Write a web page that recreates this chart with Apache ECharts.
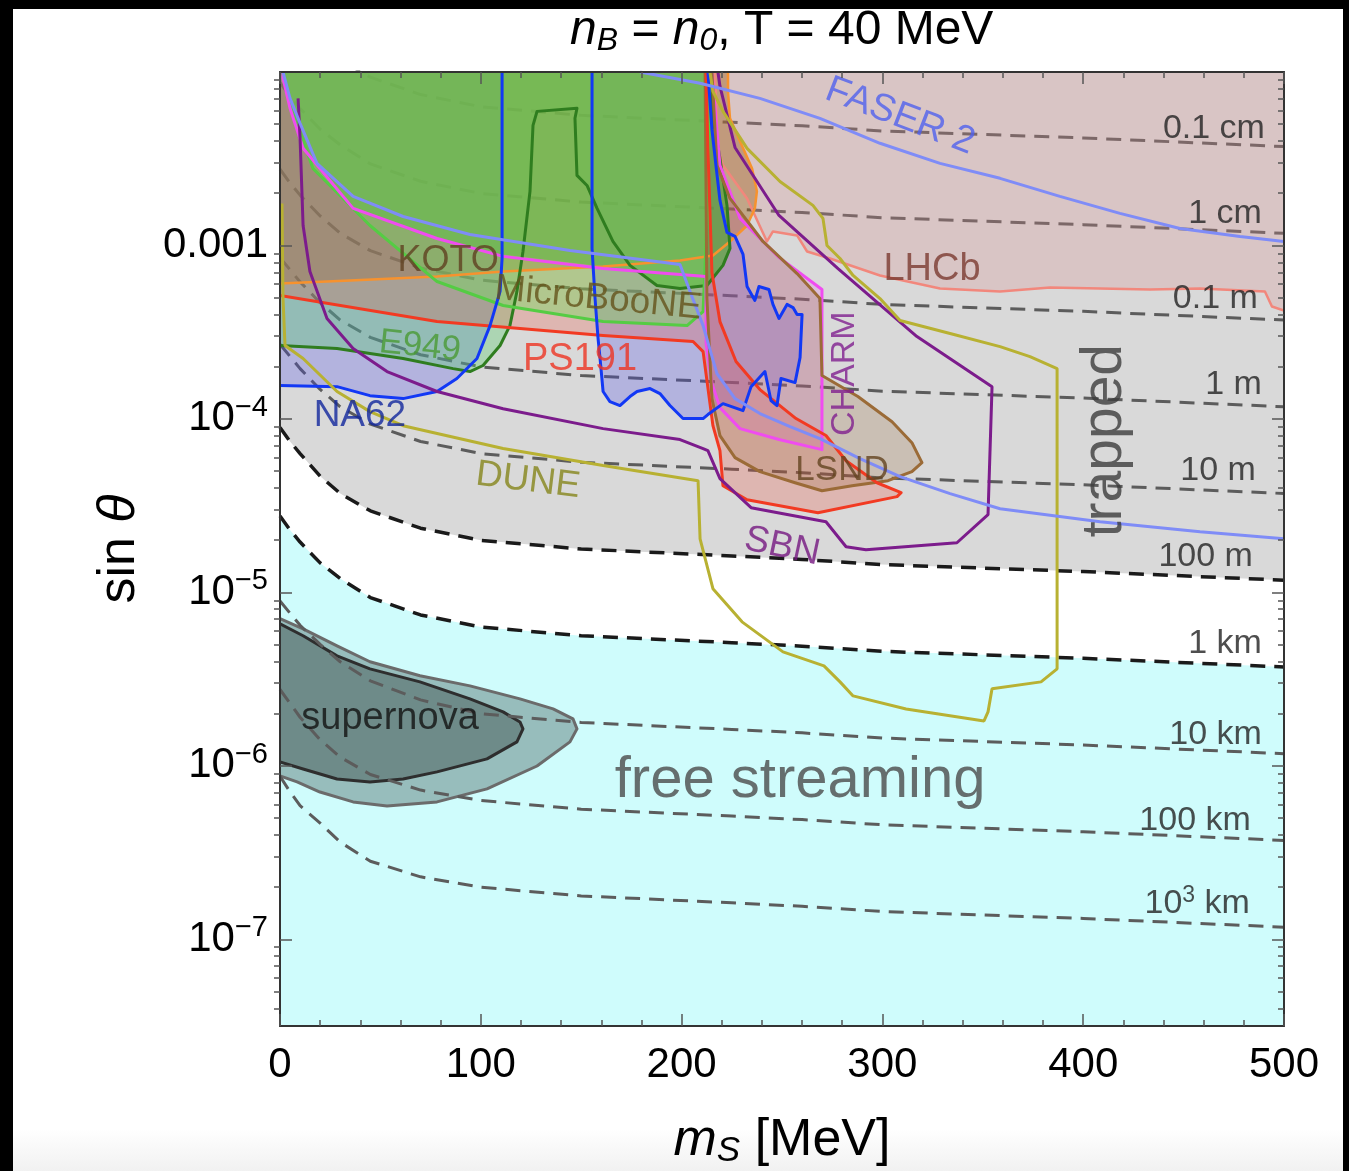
<!DOCTYPE html>
<html>
<head>
<meta charset="utf-8">
<script src="https://cdn.jsdelivr.net/npm/echarts@6/dist/echarts.min.js"></script>
<style>
  html, body { margin: 0; padding: 0; background: #000; }
  #chart {
    position: absolute; left: 13px; top: 9px; width: 1330px; height: 1162px;
    background: linear-gradient(#fff 0, #fff 1120px, #f1f1f1 1162px);
  }
</style>
</head>
<body>
<div id="chart"></div>
<script>
// x = m_S [MeV], y = log10(sin theta)

// decay length contours, sampled at these masses
const contourMass = [0, 5, 10, 20, 30, 45, 70, 100, 150, 225, 260, 300, 400, 500];
const len01cm  = [-1.56, -1.64, -1.71, -1.83, -1.93, -2.03, -2.13, -2.20, -2.25, -2.29, -2.31, -2.34, -2.38, -2.43];
const len1cm   = [-2.06, -2.14, -2.21, -2.33, -2.42, -2.53, -2.63, -2.70, -2.75, -2.79, -2.81, -2.84, -2.88, -2.93];
const len01m   = [-2.56, -2.64, -2.71, -2.83, -2.93, -3.03, -3.13, -3.20, -3.25, -3.29, -3.31, -3.34, -3.38, -3.43];
const len1m    = [-3.07, -3.14, -3.21, -3.33, -3.43, -3.53, -3.63, -3.70, -3.75, -3.79, -3.81, -3.84, -3.88, -3.93];
const len10m   = [-3.57, -3.64, -3.71, -3.83, -3.93, -4.03, -4.13, -4.20, -4.25, -4.29, -4.31, -4.34, -4.38, -4.43];
const len100m  = [-4.05, -4.13, -4.20, -4.33, -4.43, -4.53, -4.63, -4.70, -4.75, -4.79, -4.81, -4.84, -4.88, -4.93];
const len1km   = [-4.56, -4.64, -4.71, -4.83, -4.92, -5.03, -5.13, -5.20, -5.25, -5.29, -5.31, -5.34, -5.38, -5.43];
const len10km  = [-5.05, -5.12, -5.19, -5.30, -5.40, -5.51, -5.62, -5.70, -5.75, -5.79, -5.81, -5.84, -5.88, -5.93];
const len100km = [-5.56, -5.64, -5.72, -5.85, -5.95, -6.05, -6.14, -6.20, -6.25, -6.29, -6.31, -6.34, -6.38, -6.43];
const len1000km= [-6.06, -6.15, -6.23, -6.33, -6.44, -6.55, -6.64, -6.70, -6.75, -6.79, -6.81, -6.84, -6.88, -6.93];

// experimental regions, [m, log10 sin] outlines
const lhcb = [[216.6,-2],[218.1,-2.44],[220.6,-2.538],[232.6,-2.729],[242.5,-2.977],[245.5,-2.919],[257.5,-2.942],[262.5,-3.035],[273.9,-3.075],[298.8,-3.173],[328.7,-3.248],[358.6,-3.265],[383.5,-3.242],[408.4,-3.248],[433.3,-3.254],[458.2,-3.248],[490.5,-3.265],[494,-3.352],[500,-3.375],[500,-2]];
const koto = [[0,-2],[0,-3.219],[34.9,-3.202],[78.2,-3.179],[111.1,-3.15],[160.9,-3.121],[199.2,-3.087],[215.6,-3.058],[224.1,-2.977],[232.6,-2.885],[236.5,-2.786],[237.5,-2.688],[235.1,-2.556],[229.1,-2.4],[224.1,-2.267],[223.1,-2.111],[223.1,-2]];
const na62Low = [[0,-2],[0,-3.808],[28.4,-3.814],[44.8,-3.866],[61.3,-3.883],[78.2,-3.842],[88.1,-3.767],[98.1,-3.652],[104.6,-3.462],[109.6,-3.265],[110.6,-3.075],[110.6,-2]];
const na62High = [[155.4,-2],[155.4,-3.017],[156.9,-3.306],[158.4,-3.537],[159.4,-3.652],[160.9,-3.842],[164.3,-3.9],[169.3,-3.923],[174.3,-3.871],[177.8,-3.842],[184.3,-3.825],[189.2,-3.854],[194.2,-3.923],[200.7,-3.998],[210.7,-3.998],[213.1,-3.975],[220.6,-3.912],[230.6,-3.952],[234.6,-3.814],[241.5,-3.727],[244.5,-3.894],[247.5,-3.923],[249.5,-3.767],[256.5,-3.791],[259,-3.646],[260,-3.398],[257.5,-3.398],[255.5,-3.358],[252.5,-3.34],[248.5,-3.421],[245.5,-3.34],[243.5,-3.254],[238.5,-3.237],[236.5,-3.317],[232.6,-3.237],[230.6,-3.052],[226.6,-2.948],[222.6,-2.925],[219.1,-2.74],[217.1,-2.538],[215.1,-2.331],[213.1,-2]];
const e949 = [[0,-2],[0,-3.577],[28.4,-3.594],[61.3,-3.652],[86.2,-3.71],[94.6,-3.727],[101.1,-3.692],[109.6,-3.577],[114.5,-3.462],[118,-3.265],[121,-3.035],[124.5,-2.688],[126,-2.308],[128,-2.227],[147.9,-2.209],[146.9,-2.267],[147.9,-2.596],[152.9,-2.654],[157.9,-2.786],[165.8,-2.977],[174.3,-3.115],[187.7,-3.231],[199.2,-3.248],[212.6,-3.231],[220.6,-3.115],[224.1,-3.017],[222.6,-2.769],[219.1,-2.498],[215.6,-2.267],[214.1,-2]];
const ps191 = [[0,-2],[0,-3.289],[78.2,-3.439],[160.9,-3.519],[205.7,-3.554],[210.7,-3.612],[215.6,-4.039],[219.1,-4.183],[220.6,-4.385],[232.6,-4.466],[267.9,-4.541],[307.3,-4.448],[309.3,-4.425],[297.3,-4.368],[281.9,-4.241],[271.9,-4.096],[257,-3.998],[239,-3.831],[227.1,-3.669],[219.1,-3.439],[215.1,-3.156],[213.1,-2.44],[212.2,-2]];
const charm = [[1.5,-2],[1.5,-2.036],[5,-2.209],[11.5,-2.44],[36.4,-2.786],[78.2,-2.96],[111.1,-3.063],[160.9,-3.133],[212.2,-3.179],[212.2,-3.565],[215.1,-3.796],[219.1,-3.935],[229.1,-4.056],[248.5,-4.119],[269.9,-4.177],[269.9,-3.254],[248.5,-3.069],[229.1,-2.844],[219.1,-2.538],[215.1,-2]];
const lsnd = [[211.7,-2],[215.1,-2],[217.6,-2.538],[224.1,-2.729],[240.5,-2.977],[257.5,-3.162],[268.9,-3.306],[269.9,-3.75],[287.8,-3.871],[304.8,-4.016],[314.7,-4.137],[319.7,-4.252],[314.7,-4.304],[302.8,-4.356],[284.9,-4.385],[269.9,-4.414],[256.5,-4.368],[239,-4.304],[226.6,-4.223],[219.1,-4.096],[215.1,-3.883],[212.6,-3.306]];
const greenTop = [[0,-2],[1.5,-2.036],[5,-2.209],[11.5,-2.44],[36.4,-2.775],[78.2,-2.96],[111.1,-3.052],[160.9,-3.121],[179.3,-3.162],[187.7,-3.231],[199.2,-3.248],[212.6,-3.231],[220.6,-3.115],[224.1,-3.017],[222.6,-2.769],[219.1,-2.498],[215.6,-2.267],[214.1,-2]];
const microboone = [[1.5,-2],[7.5,-2.267],[16.4,-2.556],[44.8,-2.885],[78.2,-3.208],[111.1,-3.346],[160.9,-3.439],[202.7,-3.462],[210.7,-3.381],[213.1,-2.729],[214.1,-2]];
const snOuter = [[0,-5.152],[11.5,-5.21],[28.4,-5.308],[44.8,-5.4],[69.7,-5.481],[94.6,-5.539],[119.5,-5.614],[136,-5.672],[145.9,-5.729],[147.9,-5.787],[144.4,-5.862],[128,-6.001],[103.1,-6.133],[78.2,-6.208],[53.3,-6.231],[36.4,-6.208],[19.9,-6.151],[8.5,-6.093],[0,-6.058]];
const snInner = [[0,-5.181],[11.5,-5.25],[28.4,-5.366],[44.8,-5.441],[69.7,-5.516],[94.6,-5.614],[111.1,-5.689],[119.5,-5.747],[121,-5.787],[118,-5.862],[103.1,-5.96],[78.2,-6.035],[61.3,-6.076],[44.8,-6.093],[28.4,-6.076],[11.5,-6.018],[0,-5.978]];

// sensitivity curves (outline only)
const sbn = [[9,-2.152],[10,-2.383],[11.5,-2.885],[14.9,-3.15],[23.4,-3.421],[36.4,-3.594],[53.3,-3.727],[78.2,-3.842],[111.1,-3.941],[160.9,-4.056],[199.2,-4.119],[210.7,-4.171],[213.1,-4.183],[219.1,-4.344],[234.6,-4.512],[271.9,-4.593],[281.9,-4.737],[291.8,-4.754],[337.1,-4.714],[352.6,-4.552],[354.6,-3.814],[317.2,-3.525],[277.9,-3.133],[248.5,-2.827],[226.6,-2.435],[219.1,-2.082],[218.1,-2]];
const dune = [[1,-2.758],[1.5,-3.306],[2.5,-3.577],[11.5,-3.652],[28.4,-3.842],[44.8,-3.958],[61.3,-4.039],[111.1,-4.171],[160.9,-4.269],[208.2,-4.356],[209.2,-4.691],[215.6,-4.979],[230.1,-5.17],[250.5,-5.343],[270.9,-5.424],[278.9,-5.516],[285.4,-5.597],[311.8,-5.672],[350.6,-5.741],[352.6,-5.689],[354.6,-5.556],[379,-5.516],[387,-5.441],[387,-3.71],[373.5,-3.641],[358.6,-3.583],[333.7,-3.508],[308.8,-3.433],[298.8,-3.306],[285.4,-3.173],[278.9,-3.075],[272.4,-3],[270.4,-2.844],[265.4,-2.769],[249,-2.631],[232.6,-2.44],[220.6,-2.227],[215.6,-2.111],[214.1,-2]];
const faserUpper = [[179.3,-2],[209.2,-2.065],[239,-2.152],[268.9,-2.267],[298.8,-2.411],[328.7,-2.527],[358.6,-2.613],[388.4,-2.717],[418.3,-2.815],[448.2,-2.902],[478.1,-2.948],[500,-2.977]];
const faserLower = [[1.5,-2],[5,-2.152],[10,-2.296],[18.4,-2.527],[36.4,-2.717],[61.3,-2.833],[94.6,-2.937],[144.4,-3.029],[199.2,-3.11],[204.2,-3.265],[210.7,-3.462],[217.6,-3.739],[226.6,-3.883],[239,-3.969],[254,-4.044],[268.9,-4.114],[288.8,-4.229],[308.8,-4.333],[333.7,-4.431],[358.6,-4.518],[408.4,-4.593],[458.2,-4.65],[500,-4.691]];

const yMajor = [-7, -6, -5, -4, -3];
const xMin = 0, xMax = 500, yMin = -7.5, yMax = -2;

const FONT = "'Liberation Sans', Arial, Helvetica, sans-serif";

const yMinor = [];
for (let n = -8; n <= -3; n++) {
  for (let k = 2; k <= 9; k++) {
    const v = n + Math.log10(k);
    if (v > yMin && v < yMax) yMinor.push(v);
  }
}

function pairs(ys) { return contourMass.map((m, i) => [m, ys[i]]); }

function onEdge(p) { return p[0] <= xMin || p[0] >= xMax || p[1] >= yMax || p[1] <= yMin; }

// split a closed outline into the pieces that do not run along the frame
function openRuns(pts) {
  const runs = [];
  let run = [];
  const n = pts.length;
  for (let i = 0; i < n; i++) {
    const a = pts[i], b = pts[(i + 1) % n];
    if (onEdge(a) && onEdge(b)) {
      if (run.length > 1) runs.push(run);
      run = [];
      continue;
    }
    if (!run.length) run.push(a);
    run.push(b);
  }
  if (run.length > 1) runs.push(run);
  return runs;
}

function regionFill(name, pts, fill, z) {
  return {
    type: 'custom', name: name, z: z, silent: true, clip: true,
    data: [[pts[0][0], pts[0][1]]],
    renderItem: function (params, api) {
      return {
        type: 'polygon',
        shape: { points: pts.map(p => api.coord(p)) },
        style: { fill: fill, stroke: 'none' }
      };
    }
  };
}

function regionLine(name, pts, stroke, width, z) {
  const runs = openRuns(pts);
  return {
    type: 'custom', name: name + ' outline', z: z, silent: true, clip: true,
    data: [[pts[0][0], pts[0][1]]],
    renderItem: function (params, api) {
      return {
        type: 'group',
        children: runs.map(r => ({
          type: 'polyline',
          shape: { points: r.map(p => api.coord(p)) },
          style: { fill: 'none', stroke: stroke, lineWidth: width, lineJoin: 'round' }
        }))
      };
    }
  };
}

function curve(name, pts, color, width, dash, z) {
  return {
    type: 'line', name: name, z: z, data: pts, showSymbol: false, symbol: 'none',
    silent: true, clip: true, smooth: false,
    lineStyle: { color: color, width: width, type: dash || 'solid' }
  };
}

function txt(m, l, text, color, size, extra) {
  return {
    value: [m, l],
    label: Object.assign({
      show: true, formatter: text, color: color, fontSize: size,
      fontFamily: FONT, position: 'inside'
    }, extra || {})
  };
}

const dash = [15, 9];
const lenLabel = { position: 'left', distance: 0 };
const labels = [
  txt(308.8, -2.256, 'FASER 2', '#4f60ee', 38, { rotate: -21 }),
  txt(490.5, -2.325, '0.1 cm', '#222', 34, lenLabel),
  txt(489, -2.815, '1 cm', '#222', 34, lenLabel),
  txt(487, -3.306, '0.1 m', '#222', 34, lenLabel),
  txt(489, -3.802, '1 m', '#222', 34, lenLabel),
  txt(486, -4.298, '10 m', '#222', 34, lenLabel),
  txt(484.5, -4.795, '100 m', '#222', 34, lenLabel),
  txt(489, -5.297, '1 km', '#222', 34, lenLabel),
  txt(489, -5.822, '10 km', '#222', 34, lenLabel),
  txt(483.5, -6.318, '100 km', '#222', 34, lenLabel),
  txt(483, -6.797, '10{s|3} km', '#222', 34, Object.assign({
    rich: { s: { fontSize: 23, color: '#222', fontFamily: FONT, padding: [0, 0, 16, 0] } } }, lenLabel)),
  txt(324.7, -3.138, 'LHCb', '#7a3a30', 38),
  txt(83.7, -3.092, 'KOTO', '#5f4020', 36),
  txt(158.4, -3.306, 'MicroBooNE', '#64521a', 37, { rotate: -5.5 }),
  txt(69.7, -3.583, 'E949', '#4a9a34', 35, { rotate: -6 }),
  txt(149.4, -3.658, 'PS191', '#ee3322', 38),
  txt(39.8, -3.981, 'NA62', '#10259c', 37),
  txt(123.5, -4.356, 'DUNE', '#84841a', 37, { rotate: -7 }),
  txt(281.4, -3.739, 'CHARM', '#7f1f8f', 34, { rotate: 90 }),
  txt(279.9, -4.298, 'LSND', '#63431f', 35),
  txt(250, -4.737, 'SBN', '#74167f', 37, { rotate: -12 }),
  txt(410.9, -4.125, 'trapped', '#3c3c3c', 57, { rotate: 90 }),
  txt(259, -6.087, 'free streaming', '#4a4a4a', 58),
  txt(54.8, -5.729, 'supernova', '#111', 38)
];

const series = [
  // trapped region above the 100 m contour, free streaming below 1 km
  { type: 'line', name: 'trappedFill', z: 1, data: pairs(len100m), showSymbol: false, silent: true,
    lineStyle: { width: 0 }, areaStyle: { origin: 'end', color: '#d9d9d9', opacity: 1 } },
  { type: 'line', name: 'freeFill', z: 1, data: pairs(len1km), showSymbol: false, silent: true,
    lineStyle: { width: 0 }, areaStyle: { origin: 'start', color: '#cffcfc', opacity: 1 } },
  regionFill('supernovaOuter', snOuter, '#97bdbc', 2),
  regionLine('supernovaOuter', snOuter, '#6b6b6b', 3, 2),
  regionFill('supernovaInner', snInner, '#6e8b89', 2),
  regionLine('supernovaInner', snInner, '#2e2e2e', 3, 2),
  curve('0.1 cm', pairs(len01cm), '#5c5c5c', 3, dash, 3),
  curve('1 cm', pairs(len1cm), '#5c5c5c', 3, dash, 3),
  curve('0.1 m', pairs(len01m), '#5c5c5c', 3, dash, 3),
  curve('1 m', pairs(len1m), '#5c5c5c', 3, dash, 3),
  curve('10 m', pairs(len10m), '#5c5c5c', 3, dash, 3),
  curve('100 m', pairs(len100m), '#1a1a1a', 3.5, dash, 3),
  curve('1 km', pairs(len1km), '#1a1a1a', 3.5, dash, 3),
  curve('10 km', pairs(len10km), '#5c5c5c', 3, dash, 3),
  curve('100 km', pairs(len100km), '#5c5c5c', 3, dash, 3),
  curve('1000 km', pairs(len1000km), '#5c5c5c', 3, dash, 3),
  regionFill('LHCb', lhcb, 'rgba(215,140,140,0.26)', 4),
  regionFill('KOTO', koto, 'rgba(160,95,25,0.42)', 4),
  regionFill('NA62 low', na62Low, 'rgba(70,70,235,0.26)', 4),
  regionFill('NA62 high', na62High, 'rgba(70,70,235,0.26)', 4),
  regionFill('E949', e949, 'rgba(90,205,110,0.35)', 4),
  regionFill('PS191', ps191, 'rgba(240,70,50,0.24)', 4),
  regionFill('CHARM', charm, 'rgba(235,90,235,0.2)', 4),
  regionFill('LSND', lsnd, 'rgba(150,100,50,0.22)', 4),
  regionFill('greenTop', greenTop, 'rgba(85,170,50,0.6)', 4),
  regionFill('MicroBooNE', microboone, 'rgba(110,225,90,0.4)', 4),
  regionLine('LHCb', lhcb, '#f2877c', 2.5, 5),
  regionLine('KOTO', koto, '#f7922e', 2.5, 5),
  regionLine('E949', e949, '#2f7d1f', 3, 5),
  regionLine('MicroBooNE', microboone, '#55cc44', 3, 5),
  regionLine('CHARM', charm, '#f04cf0', 3, 5),
  regionLine('LSND', lsnd, '#9b6b37', 3, 5),
  regionLine('PS191', ps191, '#f23a22', 3, 5),
  regionLine('NA62 low', na62Low, '#1238f5', 3, 5),
  regionLine('NA62 high', na62High, '#1238f5', 3, 5),
  curve('SBN', sbn, '#7c1c8c', 3, 'solid', 6),
  curve('DUNE', dune, '#b8b132', 3, 'solid', 6),
  curve('FASER 2 upper', faserUpper, '#7f8cf7', 3, 'solid', 6),
  curve('FASER 2 lower', faserLower, '#7f8cf7', 3, 'solid', 6),
  { type: 'scatter', name: 'labels', z: 10, symbolSize: 0, silent: true, data: labels }
];

const frame = { show: true, lineStyle: { color: '#333', width: 2 } };
const tickStyle = { color: '#555', width: 1.5 };

const option = {
  animation: false,
  textStyle: { fontFamily: FONT },
  title: {
    text: '{i|n}{sub|B}{n| = }{i|n}{sub|0}{n|, T = 40 MeV}',
    left: 552, top: -9,
    textStyle: {
      fontWeight: 'normal',
      rich: {
        i: { fontSize: 48, fontStyle: 'italic', fontWeight: 'normal', color: '#000', fontFamily: FONT },
        n: { fontSize: 48, fontWeight: 'normal', color: '#000', fontFamily: FONT },
        sub: { fontSize: 32, fontStyle: 'italic', fontWeight: 'normal', color: '#000', fontFamily: FONT, padding: [20, 0, 0, 0] }
      }
    }
  },
  grid: { left: 267, top: 63, width: 1004, height: 954, show: false, containLabel: false, outerBoundsMode: 'none' },
  xAxis: [
    {
      type: 'value', min: xMin, max: xMax, interval: 100, z: 20,
      axisLine: frame,
      axisTick: { inside: true, length: 12, lineStyle: tickStyle },
      minorTick: { show: true, splitNumber: 5, length: 6, lineStyle: tickStyle },
      splitLine: { show: false },
      axisLabel: { fontSize: 42, color: '#000', margin: 18, fontFamily: FONT },
      name: '{i|m}{sub|S}{n| [MeV]}', nameLocation: 'middle', nameGap: 86,
      nameTextStyle: {
        rich: {
          i: { fontSize: 52, fontStyle: 'italic', color: '#000', fontFamily: FONT },
          n: { fontSize: 52, color: '#000', fontFamily: FONT },
          sub: { fontSize: 35, fontStyle: 'italic', color: '#000', fontFamily: FONT, padding: [22, 0, 0, 0] }
        }
      }
    },
    {
      type: 'value', position: 'top', min: xMin, max: xMax, interval: 100, z: 20,
      axisLine: frame,
      axisTick: { inside: true, length: 12, lineStyle: tickStyle },
      minorTick: { show: true, splitNumber: 5, length: 6, lineStyle: tickStyle },
      splitLine: { show: false }, axisLabel: { show: false }
    }
  ],
  yAxis: [
    {
      type: 'value', min: yMin, max: yMax, interval: 0.5, z: 20,
      axisLine: frame,
      axisTick: { inside: true, length: 12, lineStyle: tickStyle, customValues: yMajor },
      splitLine: { show: false },
      axisLabel: {
        customValues: yMajor, margin: 12, color: '#000', fontSize: 42, fontFamily: FONT,
        formatter: function (v) {
          const n = Math.round(v);
          if (Math.abs(v - n) > 1e-6 || n >= -2) return '';
          if (n === -3) return '{b|0.001}';
          return '{b|10}{s|\u2212' + (-n) + '}';
        },
        rich: {
          b: { fontSize: 42, color: '#000', fontFamily: FONT },
          s: { fontSize: 29, color: '#000', fontFamily: FONT, padding: [0, 0, 22, 0] }
        }
      },
      name: '{n|sin }{i|\u03b8}', nameLocation: 'middle', nameRotate: 90, nameGap: 134,
      nameTextStyle: {
        rich: {
          n: { fontSize: 52, color: '#000', fontFamily: FONT },
          i: { fontSize: 52, fontStyle: 'italic', color: '#000', fontFamily: FONT }
        }
      }
    },
    {
      type: 'value', min: yMin, max: yMax, interval: 0.5, z: 20,
      axisLine: { show: false },
      axisTick: { inside: true, length: 6, lineStyle: tickStyle, customValues: yMinor },
      splitLine: { show: false }, axisLabel: { show: false }
    },
    {
      type: 'value', position: 'right', min: yMin, max: yMax, interval: 0.5, z: 20,
      axisLine: frame,
      axisTick: { inside: true, length: 12, lineStyle: tickStyle, customValues: yMajor },
      splitLine: { show: false }, axisLabel: { show: false }
    },
    {
      type: 'value', position: 'right', min: yMin, max: yMax, interval: 0.5, z: 20,
      axisLine: { show: false },
      axisTick: { inside: true, length: 6, lineStyle: tickStyle, customValues: yMinor },
      splitLine: { show: false }, axisLabel: { show: false }
    }
  ],
  series: series
};

const chart = echarts.init(document.getElementById('chart'), null, { renderer: 'canvas' });
chart.setOption(option);
</script>
</body>
</html>
